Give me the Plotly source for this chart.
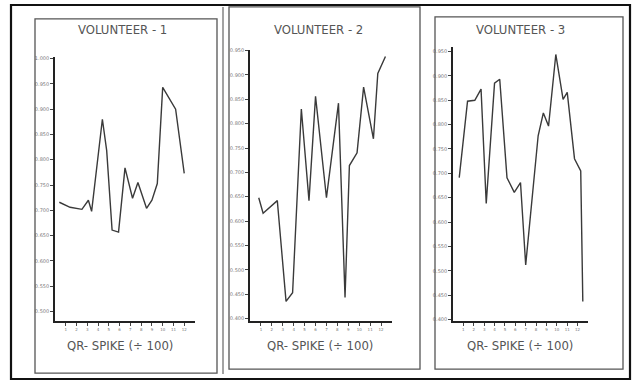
import plotly.graph_objects as go

# ---- data ----
titles = ["VOLUNTEER - 1", "VOLUNTEER - 2", "VOLUNTEER - 3"]
x_label = "QR- SPIKE (÷ 100)"

v1_x = [0.4, 1.4, 2.5, 3.1, 3.4, 4.4, 4.8, 5.3, 5.9, 6.5, 7.2, 7.7, 8.5, 9.0, 9.5, 10.0, 11.2, 12.0]
v1_y = [0.716, 0.706, 0.702, 0.720, 0.698, 0.880, 0.818, 0.661, 0.657, 0.784, 0.724, 0.755,
        0.704, 0.720, 0.753, 0.943, 0.900, 0.773]

v2_x = [0.8, 1.2, 2.5, 3.1, 3.3, 3.9, 4.3, 4.7, 5.4, 6.0, 7.0, 8.1, 8.7, 9.1, 9.8, 10.4,
        11.3, 11.7, 12.4]
v2_y = [0.648, 0.616, 0.642, 0.479, 0.435, 0.453, 0.657, 0.830, 0.642, 0.856, 0.648, 0.842,
        0.443, 0.714, 0.740, 0.875, 0.769, 0.903, 0.938]

v3_x = [0.6, 1.4, 2.1, 2.7, 3.2, 4.0, 4.5, 5.2, 5.9, 6.5, 7.0, 8.2, 8.7, 9.2, 9.9, 10.6,
        11.0, 11.7, 12.3, 12.5]
v3_y = [0.691, 0.848, 0.850, 0.873, 0.638, 0.885, 0.893, 0.691, 0.661, 0.681, 0.512, 0.777,
        0.824, 0.797, 0.944, 0.852, 0.866, 0.730, 0.705, 0.437]

x_ticks = list(range(1, 13))
x_ticklabels = [str(v) for v in x_ticks]
y1_ticks = [0.50, 0.55, 0.60, 0.65, 0.70, 0.75, 0.80, 0.85, 0.90, 0.95, 1.00]
y23_ticks = [0.40, 0.45, 0.50, 0.55, 0.60, 0.65, 0.70, 0.75, 0.80, 0.85, 0.90, 0.95]

W, H = 632, 382
def px(x): return x / W
def py(y): return 1 - y / H

line_col = "#3a3a3a"
fig = go.Figure()
series = [(v1_x, v1_y), (v2_x, v2_y), (v3_x, v3_y)]
for i, (xs, ys) in enumerate(series):
    sfx = "" if i == 0 else str(i + 1)
    fig.add_trace(go.Scatter(x=xs, y=ys, mode="lines", xaxis="x" + sfx, yaxis="y" + sfx,
                             line=dict(color=line_col, width=1.4), showlegend=False,
                             hoverinfo="skip"))

axis_common = dict(showgrid=False, zeroline=False, showline=True, linecolor="#222",
                   linewidth=1.6, ticks="outside", tickcolor="#444", ticklen=3, tickwidth=1.2,
                   tickfont=dict(size=5, color="#777", family="DejaVu Sans"))

# panel geometry in pixels: (x0, x1, ytop, ybottom, yrange)
panels = [
    (55, 195, 55, 322, [0.4804, 1.0039], y1_ticks),
    (250, 392, 48, 322, [0.3939, 0.952], y23_ticks),
    (453, 588, 45, 322, [0.3959, 0.960], y23_ticks),
]
layout = dict(width=W, height=H, margin=dict(l=0, r=0, t=0, b=0),
              paper_bgcolor="white", plot_bgcolor="rgba(0,0,0,0)")
for i, (x0, x1, yt, yb, yr, yt_vals) in enumerate(panels):
    sfx = "" if i == 0 else str(i + 1)
    layout["xaxis" + sfx] = dict(axis_common, domain=[px(x0), px(x1)], range=[0, 13],
                                 tickvals=x_ticks, ticktext=x_ticklabels,
                                 tickfont=dict(size=4, color="#777", family="DejaVu Sans"),
                                 anchor="y" + sfx)
    layout["yaxis" + sfx] = dict(axis_common, domain=[py(yb), py(yt)], range=yr,
                                 tickvals=yt_vals, ticktext=[f"{v:.3f}" for v in yt_vals],
                                 anchor="x" + sfx)
fig.update_layout(**layout)

# frames (scanned page borders)
shapes = [
    dict(type="rect", x0=px(11), x1=px(630), y0=py(380), y1=py(3),
         line=dict(color="#111", width=2.2)),
    dict(type="rect", x0=px(35), x1=px(217), y0=py(374), y1=py(17),
         line=dict(color="#555", width=1.3)),
    dict(type="rect", x0=px(229), x1=px(420), y0=py(370), y1=py(5),
         line=dict(color="#555", width=1.3)),
    dict(type="line", x0=px(223), x1=px(223), y0=py(375), y1=py(5),
         line=dict(color="#666", width=1.2)),
    dict(type="rect", x0=px(435), x1=px(623), y0=py(370), y1=py(15),
         line=dict(color="#555", width=1.3)),
]
for s in shapes:
    s.update(xref="paper", yref="paper")
fig.update_layout(shapes=shapes)

title_x = [122, 318, 520]
xlab_x = [120, 320, 520]
ann = []
for i in range(3):
    ann.append(dict(text=titles[i], x=px(title_x[i]), y=py(28), xref="paper", yref="paper",
                    xanchor="center", yanchor="middle", showarrow=False,
                    font=dict(size=13, color="#555", family="DejaVu Sans Condensed")))
    ann.append(dict(text=x_label, x=px(xlab_x[i]), y=py(346), xref="paper", yref="paper",
                    xanchor="center", yanchor="middle", showarrow=False,
                    font=dict(size=13, color="#555", family="DejaVu Sans Condensed")))
fig.update_layout(annotations=ann)

fig.write_html("out.html")
